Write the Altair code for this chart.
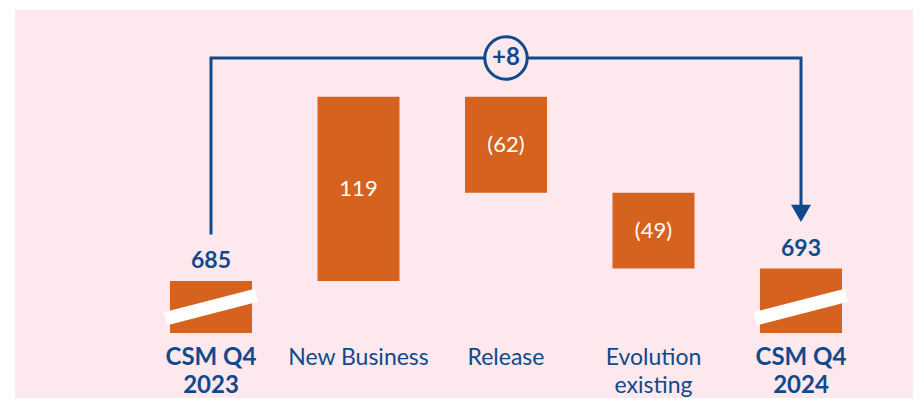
import altair as alt
import pandas as pd

# ---- data ----
categories = ["CSM Q4\n2023", "New Business", "Release", "Evolution\nexisting", "CSM Q4\n2024"]
kinds = ["total", "delta", "delta", "delta", "total"]
values = [685, 119, -62, -49, 693]
value_labels = ["685", "119", "(62)", "(49)", "693"]

# visual break of the total bars (axis is truncated) and y domain
BREAK_BASE = 651.4
Y_DOMAIN = [609.4, 860]
# connector geometry in value units
BRACKET_MARGIN = 25      # above the highest running total
START_GAP = 30           # gap above the first total (room for its label)
END_GAP = 40             # gap above the last total (room for arrow + label)
ARROW_GAP = 35.7

ORANGE = "#D5621F"
BLUE = "#0E4A8C"
PINK = "#FDE8EE"
FONT = "Lato"

rows = []
run = 0
for c, k, v, l in zip(categories, kinds, values, value_labels):
    if k == "total":
        start, end = BREAK_BASE, v
        run = v
    else:
        start, end = run, run + v
        run += v
    rows.append(dict(category=c, kind=k, value=v, start=start, end=end,
                     label=l, mid=(start + end) / 2))
df = pd.DataFrame(rows)

peak = max(max(r["start"], r["end"]) for r in rows if r["kind"] == "delta")
bracket = peak + BRACKET_MARGIN
conn = pd.DataFrame({
    "category": [categories[0], categories[0], categories[-1], categories[-1]],
    "level": [values[0] + START_GAP, bracket, bracket, values[-1] + END_GAP],
    "order": [0, 1, 2, 3],
})
arrow = pd.DataFrame({"category": [categories[-1]], "level": [values[-1] + ARROW_GAP]})
diff = values[-1] - values[0]
badge = pd.DataFrame({"category": [categories[2]], "level": [bracket],
                      "text": [f"+{diff}" if diff >= 0 else f"({-diff})"]})

xs = alt.X("category:N", sort=categories,
           scale=alt.Scale(domain=categories, range=[155, 827],
                           paddingInner=0.444, paddingOuter=0),
           axis=None)
yscale = alt.Scale(domain=Y_DOMAIN, nice=False, zero=False)

base = alt.Chart(df)

bars = base.mark_bar(color=ORANGE).encode(
    x=xs,
    y=alt.Y("start:Q", scale=yscale, axis=None),
    y2="end:Q",
)

slash = base.transform_filter("datum.kind == 'total'").mark_rule(
    color="white", strokeWidth=13.5, strokeCap="butt",
    xOffset=-45.5, x2Offset=45.5, yOffset=-14.3, y2Offset=-37.7,
).encode(x=xs, x2="category:N", y=alt.Y("start:Q", scale=yscale), y2="start:Q")

total_labels = base.transform_filter("datum.kind == 'total'").mark_text(
    font=FONT, fontSize=23, fontWeight="bold", color=BLUE, baseline="middle", dy=-20,
).encode(x=xs, y=alt.Y("end:Q", scale=yscale), text="label:N")

delta_labels = base.transform_filter("datum.kind == 'delta'").mark_text(
    font=FONT, fontSize=22, color="white", baseline="middle",
).encode(x=xs, y=alt.Y("mid:Q", scale=yscale), text="label:N")

cat_total = base.transform_filter("datum.kind == 'total'").transform_calculate(
    lines="split(datum.category, '\\n')"
).mark_text(
    font=FONT, fontSize=24, fontWeight="bold", color=BLUE, baseline="alphabetic",
    lineHeight=28,
).encode(x=xs, y=alt.value(355), text="lines:N")

cat_delta = base.transform_filter("datum.kind == 'delta'").transform_calculate(
    lines="split(datum.category, '\\n')"
).mark_text(
    font=FONT, fontSize=23, color=BLUE, baseline="alphabetic", lineHeight=28,
).encode(x=xs, y=alt.value(355), text="lines:N")

connector = alt.Chart(conn).mark_line(
    color=BLUE, strokeWidth=3, strokeJoin="miter",
).encode(x=xs, y=alt.Y("level:Q", scale=yscale), order="order:Q")

arrow_head = alt.Chart(arrow).mark_point(
    shape="triangle-down", filled=True, size=400, color=BLUE, opacity=1,
).encode(x=xs, y=alt.Y("level:Q", scale=yscale))

circle = alt.Chart(badge).mark_point(
    shape="circle", size=1800, filled=True, fill=PINK, stroke=BLUE,
    strokeWidth=3, opacity=1, fillOpacity=1, strokeOpacity=1,
).encode(x=xs, y=alt.Y("level:Q", scale=yscale))

badge_text = alt.Chart(badge).mark_text(
    font=FONT, fontSize=24, fontWeight="bold", color=BLUE, baseline="middle",
).encode(x=xs, y=alt.Y("level:Q", scale=yscale), text="text:N")

chart = alt.layer(
    bars, slash, total_labels, delta_labels, cat_total, cat_delta,
    connector, arrow_head, circle, badge_text,
).properties(
    width=898, height=388,
    autosize=alt.AutoSizeParams(type="none"),
    padding={"left": 7, "top": 2, "right": 0, "bottom": 0},
    background="white",
).configure_view(fill=PINK, stroke=None)

chart.save("out.html", embed_options={"renderer": "svg", "actions": False})
